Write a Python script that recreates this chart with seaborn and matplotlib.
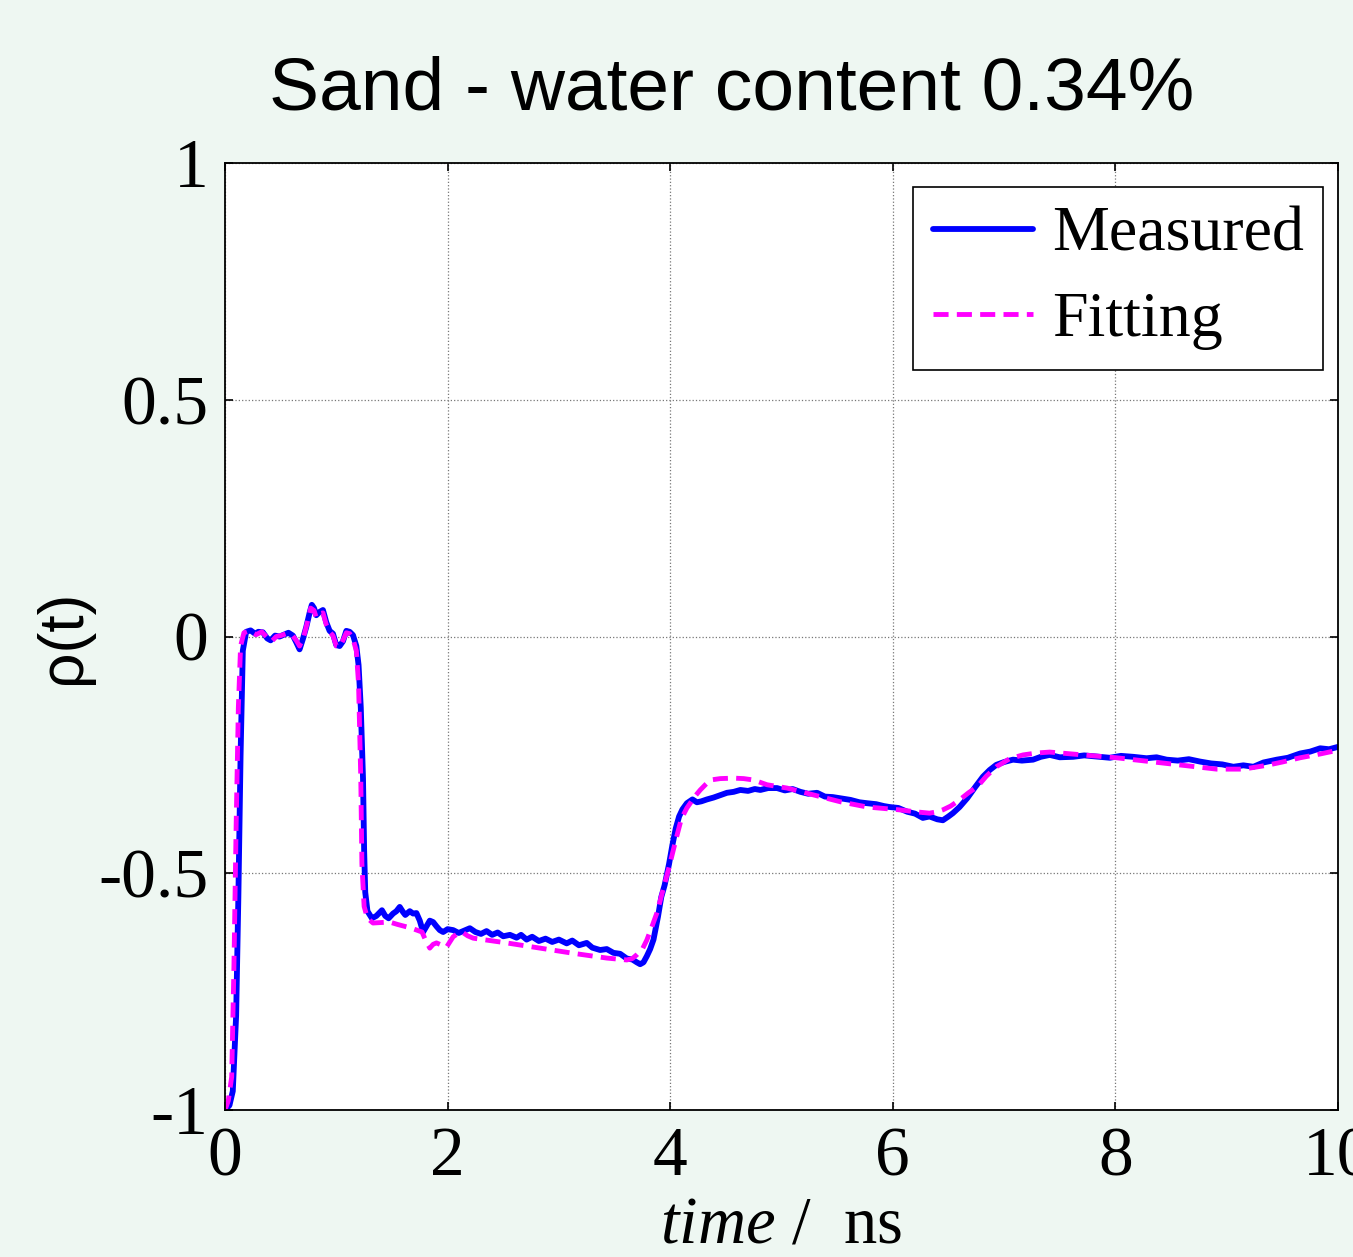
import numpy as np
import pandas as pd
import matplotlib
matplotlib.use("Agg")
import matplotlib.pyplot as plt
import seaborn as sns

# values
meas_t = [0.00, 0.04, 0.07, 0.10, 0.12, 0.14, 0.16, 0.19, 0.23, 0.27, 0.30, 0.34, 0.38, 0.41, 0.45,
          0.49, 0.53, 0.57, 0.61, 0.64, 0.67, 0.70, 0.73, 0.76, 0.78, 0.80, 0.82, 0.85, 0.88, 0.91,
          0.94, 0.97, 1.00, 1.03, 1.06, 1.09, 1.12, 1.15, 1.18, 1.20, 1.22, 1.24, 1.25, 1.26, 1.28,
          1.32, 1.36, 1.41, 1.44, 1.47, 1.51, 1.54, 1.57, 1.60, 1.62, 1.66, 1.69, 1.72, 1.75, 1.78,
          1.81, 1.84, 1.87, 1.90, 1.93, 1.96, 2.00, 2.05, 2.10, 2.15, 2.20, 2.25, 2.30, 2.35, 2.40,
          2.45, 2.50, 2.56, 2.62, 2.66, 2.71, 2.76, 2.82, 2.88, 2.94, 3.00, 3.07, 3.12, 3.18, 3.25,
          3.30, 3.37, 3.43, 3.49, 3.55, 3.61, 3.66, 3.70, 3.73, 3.76, 3.79, 3.82, 3.85, 3.89, 3.92,
          3.95, 3.99, 4.02, 4.05, 4.08, 4.11, 4.15, 4.20, 4.24, 4.28, 4.33, 4.39, 4.45, 4.51, 4.57,
          4.63, 4.70, 4.76, 4.81, 4.88, 4.96, 5.03, 5.10, 5.17, 5.24, 5.32, 5.39, 5.46, 5.54, 5.62,
          5.70, 5.77, 5.85, 5.92, 5.97, 6.05, 6.13, 6.20, 6.27, 6.33, 6.40, 6.45, 6.50, 6.54, 6.60,
          6.67, 6.74, 6.81, 6.87, 6.93, 7.00, 7.08, 7.16, 7.26, 7.33, 7.41, 7.50, 7.62, 7.72, 7.86,
          7.95, 8.05, 8.16, 8.28, 8.37, 8.46, 8.56, 8.66, 8.76, 8.86, 8.96, 9.06, 9.15, 9.24, 9.33,
          9.45, 9.55, 9.66, 9.75, 9.84, 9.92, 10.00]
meas_rho = [-1.00, -0.99, -0.96, -0.80, -0.55, -0.25, -0.03, 0.010, 0.013, 0.006, 0.010, 0.009, -0.004, -0.008, 0.002,
            0.000, 0.004, 0.008, 0.002, -0.012, -0.027, -0.005, 0.020, 0.050, 0.067, 0.060, 0.045, 0.052, 0.056, 0.030,
            0.012, 0.006, -0.018, -0.020, -0.010, 0.012, 0.010, 0.003, -0.020, -0.060, -0.150, -0.300, -0.450, -0.540, -0.580,
            -0.595, -0.590, -0.578, -0.590, -0.595, -0.585, -0.580, -0.571, -0.582, -0.588, -0.580, -0.585, -0.584, -0.600, -0.624,
            -0.612, -0.600, -0.603, -0.612, -0.620, -0.624, -0.618, -0.620, -0.626, -0.621, -0.616, -0.624, -0.628, -0.622, -0.630,
            -0.625, -0.633, -0.630, -0.636, -0.630, -0.640, -0.634, -0.643, -0.638, -0.645, -0.640, -0.648, -0.642, -0.652, -0.647,
            -0.657, -0.662, -0.660, -0.668, -0.670, -0.680, -0.682, -0.688, -0.692, -0.688, -0.675, -0.660, -0.640, -0.592, -0.550,
            -0.525, -0.480, -0.440, -0.405, -0.380, -0.365, -0.352, -0.344, -0.350, -0.348, -0.344, -0.340, -0.335, -0.330, -0.328,
            -0.324, -0.326, -0.322, -0.324, -0.320, -0.320, -0.325, -0.322, -0.328, -0.332, -0.330, -0.338, -0.339, -0.342, -0.345,
            -0.350, -0.352, -0.354, -0.358, -0.360, -0.362, -0.370, -0.374, -0.383, -0.380, -0.386, -0.388, -0.380, -0.373, -0.360,
            -0.341, -0.318, -0.296, -0.282, -0.271, -0.265, -0.260, -0.262, -0.260, -0.254, -0.250, -0.255, -0.254, -0.251, -0.254,
            -0.256, -0.252, -0.254, -0.257, -0.255, -0.260, -0.262, -0.259, -0.264, -0.268, -0.270, -0.275, -0.272, -0.275, -0.266,
            -0.260, -0.256, -0.247, -0.243, -0.236, -0.238, -0.233]

fit_t = [0.00, 0.03, 0.06, 0.08, 0.10, 0.12, 0.14, 0.17, 0.22, 0.28, 0.33, 0.38, 0.42, 0.46, 0.50,
         0.55, 0.60, 0.64, 0.67, 0.71, 0.74, 0.77, 0.80, 0.82, 0.85, 0.88, 0.91, 0.94, 0.97, 1.00,
         1.03, 1.06, 1.09, 1.12, 1.15, 1.18, 1.20, 1.22, 1.23, 1.25, 1.28, 1.33, 1.40, 1.48, 1.55,
         1.63, 1.70, 1.77, 1.80, 1.84, 1.87, 1.90, 1.95, 1.99, 2.02, 2.05, 2.10, 2.13, 2.18, 2.23,
         2.53, 2.83, 3.13, 3.43, 3.61, 3.66, 3.70, 3.75, 3.79, 3.84, 3.88, 3.93, 3.99, 4.05, 4.10,
         4.15, 4.18, 4.22, 4.27, 4.32, 4.36, 4.45, 4.57, 4.66, 4.75, 4.81, 4.87, 5.05, 5.28, 5.53,
         5.77, 6.06, 6.20, 6.33, 6.40, 6.45, 6.52, 6.60, 6.68, 6.76, 6.84, 6.93, 7.05, 7.17, 7.29,
         7.41, 7.56, 7.71, 8.01, 8.31, 8.61, 8.91, 9.15, 9.36, 9.50, 9.66, 9.84, 10.00]
fit_rho = [-1.00, -0.98, -0.93, -0.70, -0.40, -0.15, -0.02, 0.008, 0.012, 0.004, 0.010, -0.002, -0.010, 0.000, 0.002,
           0.006, 0.004, -0.008, -0.020, 0.002, 0.030, 0.060, 0.055, 0.040, 0.048, 0.050, 0.025, 0.010, 0.002, -0.020,
           -0.022, -0.008, 0.008, 0.006, -0.005, -0.030, -0.100, -0.300, -0.480, -0.570, -0.595, -0.605, -0.604, -0.603, -0.608,
           -0.613, -0.618, -0.624, -0.640, -0.658, -0.650, -0.647, -0.652, -0.656, -0.645, -0.634, -0.626, -0.624, -0.632, -0.637,
           -0.647, -0.658, -0.669, -0.679, -0.683, -0.680, -0.672, -0.660, -0.641, -0.610, -0.584, -0.540, -0.487, -0.430, -0.385,
           -0.362, -0.352, -0.338, -0.324, -0.312, -0.303, -0.300, -0.299, -0.300, -0.303, -0.308, -0.313, -0.320, -0.334, -0.349,
           -0.360, -0.366, -0.370, -0.373, -0.370, -0.366, -0.358, -0.345, -0.330, -0.317, -0.295, -0.275, -0.258, -0.250, -0.246,
           -0.244, -0.247, -0.250, -0.256, -0.264, -0.272, -0.280, -0.280, -0.272, -0.265, -0.256, -0.248, -0.240]

x_ticks = [0, 2, 4, 6, 8, 10]
y_ticks = [-1, -0.5, 0, 0.5, 1]
y_tick_labels = ["-1", "-0.5", "0", "0.5", "1"]

sns.set_style("ticks")
plt.rcParams["font.family"] = ["Liberation Serif", "DejaVu Serif"]
plt.rcParams["text.color"] = "black"
plt.rcParams["axes.labelcolor"] = "black"
plt.rcParams["mathtext.fontset"] = "custom"
plt.rcParams["mathtext.rm"] = "Liberation Serif"
plt.rcParams["mathtext.it"] = "Liberation Serif:italic"

fig = plt.figure(figsize=(13.53, 12.57), dpi=100, facecolor="#EEF7F2")
ax = fig.add_axes([0.1663, 0.1169, 0.8226, 0.7534])
ax.set_facecolor("white")

sns.lineplot(x=meas_t, y=meas_rho, ax=ax, color="#0000FF", lw=4.2,
             label="Measured", estimator=None, sort=False)
sns.lineplot(x=fit_t, y=fit_rho, ax=ax, color="#FF00FF", lw=3.5,
             label="Fitting", estimator=None, sort=False)
ax.lines[1].set_dashes([3.1, 1.7])

ax.set_xlim(0, 10)
ax.set_ylim(-1, 1)
ax.set_xticks(x_ticks)
ax.set_yticks(y_ticks)
ax.set_yticklabels(y_tick_labels)
ax.grid(True, linestyle=":", color="#777777", lw=0.9)
ax.tick_params(direction="in", length=6, width=1.2, top=True, right=True,
               labelsize=50, pad=12, colors="black")
for s in ax.spines.values():
    s.set_color("black")
    s.set_linewidth(1.3)

ax.set_xlabel(r"$\mathit{time}$ /  ns", fontsize=48, labelpad=4)
ax.set_ylabel("ρ(t)", fontsize=45, family=["Liberation Sans", "DejaVu Sans"], labelpad=4)

leg = ax.legend(loc="upper right", bbox_to_anchor=(0.9866, 0.9747), borderaxespad=0,
                fontsize=46, handlelength=1.57, handletextpad=0.3, labelspacing=0.42,
                fancybox=False, framealpha=1, edgecolor="black", borderpad=0.3)
leg.get_frame().set_linewidth(1.2)

fig.text(0.541, 0.9125, "Sand - water content 0.34%", ha="center", va="baseline",
         fontsize=54, family=["Liberation Sans", "DejaVu Sans"])

fig.savefig("out.png", dpi=100, facecolor=fig.get_facecolor())
